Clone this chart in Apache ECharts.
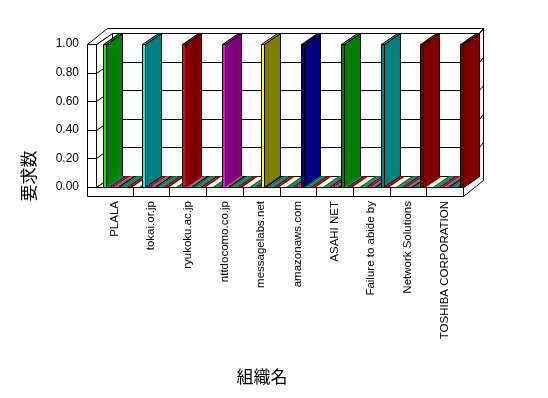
<!DOCTYPE html>
<html>
<head>
<meta charset="utf-8">
<script src="https://cdn.jsdelivr.net/npm/echarts@6/dist/echarts.min.js"></script>
<style>
  html, body { margin: 0; padding: 0; background: #fff; }
  #chart { width: 548px; height: 398px; }
</style>
</head>
<body>
<div id="chart"></div>
<script>
// 組織別 要求数
var categories = ['PLALA', 'tokai.or.jp', 'ryukoku.ac.jp', 'nttdocomo.co.jp', 'messagelabs.net',
  'amazonaws.com', 'ASAHI NET', 'Failure to abide by', 'Network Solutions', 'TOSHIBA CORPORATION'];
var yTicks = [0, 0.2, 0.4, 0.6, 0.8, 1.0];

// one series per organisation (same order as categories)
var s0 = [1, 0, 0, 0, 0, 0, 0, 0, 0, 0];
var s1 = [0, 1, 0, 0, 0, 0, 0, 0, 0, 0];
var s2 = [0, 0, 1, 0, 0, 0, 0, 0, 0, 0];
var s3 = [0, 0, 0, 1, 0, 0, 0, 0, 0, 0];
var s4 = [0, 0, 0, 0, 1, 0, 0, 0, 0, 0];
var s5 = [0, 0, 0, 0, 0, 1, 0, 0, 0, 0];
var s6 = [0, 0, 0, 0, 0, 0, 1, 0, 0, 0];
var s7 = [0, 0, 0, 0, 0, 0, 0, 1, 0, 0];
var s8 = [0, 0, 0, 0, 0, 0, 0, 0, 1, 0];
var s9 = [0, 0, 0, 0, 0, 0, 0, 0, 0, 1];
var seriesValues = [s0, s1, s2, s3, s4, s5, s6, s7, s8, s9];

var frontColors = ['#00ff00', '#00ffff', '#ff0000', '#ff00ff', '#ffff00', '#000080', '#008000', '#008080', '#800000', '#800000'];
var sideColors = ['#008000', '#008080', '#800000', '#800080', '#808000', '#000080', '#008000', '#008080', '#800000', '#800000'];
var topColors = ['#00b000', '#00b0b0', '#b00000', '#b000b0', '#b0b000', '#0000b0', '#00a000', '#00a0a0', '#a00000', '#a00000'];

// depth of the 3d box
var DX = 16, DY = -11;   // back wall
var OX = 20, OY = -16;   // outer frame

function p(v) { return Math.round(v) + 0.5; }
function pts(list) { return list.map(function (q) { return [p(q[0]), p(q[1])]; }); }

var lineStyle = { stroke: '#000', lineWidth: 1 };
var boxStyle = { fill: '#fff', stroke: '#000', lineWidth: 1 };

function poly(list, style, z2) {
  return { type: 'polygon', shape: { points: pts(list) }, style: style, z2: z2 || 0 };
}
function line(a, b, z2) {
  return { type: 'line', shape: { x1: p(a[0]), y1: p(a[1]), x2: p(b[0]), y2: p(b[1]) }, style: lineStyle, z2: z2 || 0 };
}

function frameItem(params, api) {
  var bw = api.size([1, 0])[0];
  var o = api.coord([0, 0]);
  var xL = o[0] - bw / 2, xR = xL + bw * categories.length;
  var y0 = o[1], y1 = api.coord([0, yTicks[yTicks.length - 1]])[1];
  var xW = xL - 9, yB = y0 + 9;
  var ch = [];
  ch.push(poly([[xL + DX, y1 + DY], [xR + DX, y1 + DY], [xR + DX, y0 + DY], [xL + DX, y0 + DY]], boxStyle, 1));
  ch.push(poly([[xL, y1], [xL + DX, y1 + DY], [xL + DX, y0 + DY], [xL, y0]], boxStyle, 2));
  ch.push(poly([[xL, y0], [xR, y0], [xR + DX, y0 + DY], [xL + DX, y0 + DY]], boxStyle, 2));
  yTicks.forEach(function (t) {
    var yt = api.coord([0, t])[1];
    if (t > 0 && t < 1) {
      ch.push(line([xL + DX, yt + DY], [xR + DX, yt + DY], 3));
      ch.push(line([xL, yt], [xL + DX, yt + DY], 3));
    }
  });
  ch.push(poly([[xW, y1], [xL, y1], [xL, y0], [xW, y0]], boxStyle, 4));
  ch.push(poly([[xW, y1], [xL, y1], [xL + DX, y1 + DY], [xR + DX, y1 + DY], [xR + OX, y1 + OY], [xW + OX, y1 + OY]], boxStyle, 4));
  ch.push(poly([[xR + DX, y1 + DY], [xR + OX, y1 + OY], [xR + OX, yB + OY], [xR, yB], [xR, y0], [xR + DX, y0 + DY]], boxStyle, 4));
  ch.push(poly([[xW, y0], [xR, y0], [xR, yB], [xW, yB]], boxStyle, 4));
  yTicks.forEach(function (t) {
    var yt = api.coord([0, t])[1];
    ch.push(line([xW, yt], [xL, yt], 5));
    if (t > 0) ch.push(line([xR + DX, yt + DY], [xR + OX, yt + OY], 5));
  });
  for (var k = 1; k < categories.length; k++) {
    ch.push(line([xL + k * bw, y0], [xL + k * bw, yB], 5));
  }
  return { type: 'group', children: ch };
}

function barItem(s) {
  return function (params, api) {
    var cat = api.value(0), v = api.value(1);
    var bw = api.size([1, 0])[0];
    var base = api.coord([cat, 0]);
    var yt = api.coord([cat, v])[1];
    var w = bw * 0.082;
    var x0 = base[0] - bw / 2 + bw * 0.18 + s * w;
    var x1 = x0 + w, yb = base[1];
    var z2 = cat * 10 + s;
    var ch = [];
    if (v > 0) {
      ch.push(poly([[x1, yt], [x1 + DX, yt + DY], [x1 + DX, yb + DY], [x1, yb]], { fill: sideColors[s], stroke: '#000', lineWidth: 1 }, z2));
      ch.push(poly([[x0, yt], [x1, yt], [x1 + DX, yt + DY], [x0 + DX, yt + DY]], { fill: topColors[s], stroke: '#000', lineWidth: 1 }, z2));
      ch.push(poly([[x0, yt], [x1, yt], [x1, yb], [x0, yb]], { fill: frontColors[s], stroke: '#000', lineWidth: 1 }, z2));
    } else {
      ch.push({ type: 'polygon', shape: { points: [[x0, yb], [x1, yb], [x1 + DX, yb + DY], [x0 + DX, yb + DY]] },
        style: { fill: sideColors[s] }, z2: z2 });
    }
    return { type: 'group', children: ch };
  };
}

var chart = echarts.init(document.getElementById('chart'), null, { renderer: 'canvas' });

var series = [{
  type: 'custom',
  z: 1,
  silent: true,
  renderItem: frameItem,
  data: [[0, 0]]
}];
seriesValues.forEach(function (vals, s) {
  series.push({
    type: 'custom',
    name: categories[s],
    z: 2,
    silent: true,
    renderItem: barItem(s),
    data: vals.map(function (v, i) { return [i, v]; })
  });
});

chart.setOption({
  backgroundColor: '#fff',
  animation: false,
  grid: { left: 96, right: 85, top: 44, bottom: 211 },
  xAxis: {
    type: 'category',
    data: categories,
    axisLine: { show: false },
    axisTick: { show: false },
    splitLine: { show: false },
    axisLabel: {
      rotate: 90,
      interval: 0,
      margin: 14,
      color: '#000',
      fontSize: 11.5,
      fontFamily: 'Liberation Sans, Arial, sans-serif'
    }
  },
  yAxis: {
    type: 'value',
    min: 0,
    max: 1,
    interval: 0.2,
    axisLine: { show: false },
    axisTick: { show: false },
    splitLine: { show: false },
    axisLabel: {
      margin: 17,
      color: '#000',
      fontSize: 12,
      fontFamily: 'Liberation Sans, Arial, sans-serif',
      formatter: function (v) { return v.toFixed(2); }
    }
  },
  graphic: [
    {
      type: 'text', x: 29, y: 176, rotation: Math.PI / 2,
      style: { text: '要求数', fill: '#000', font: '17px "Noto Sans CJK JP"', textAlign: 'center', textVerticalAlign: 'middle' }
    },
    {
      type: 'text', x: 262, y: 377,
      style: { text: '組織名', fill: '#000', font: '17px "Noto Sans CJK JP"', textAlign: 'center', textVerticalAlign: 'middle' }
    }
  ],
  series: series
});
</script>
</body>
</html>
